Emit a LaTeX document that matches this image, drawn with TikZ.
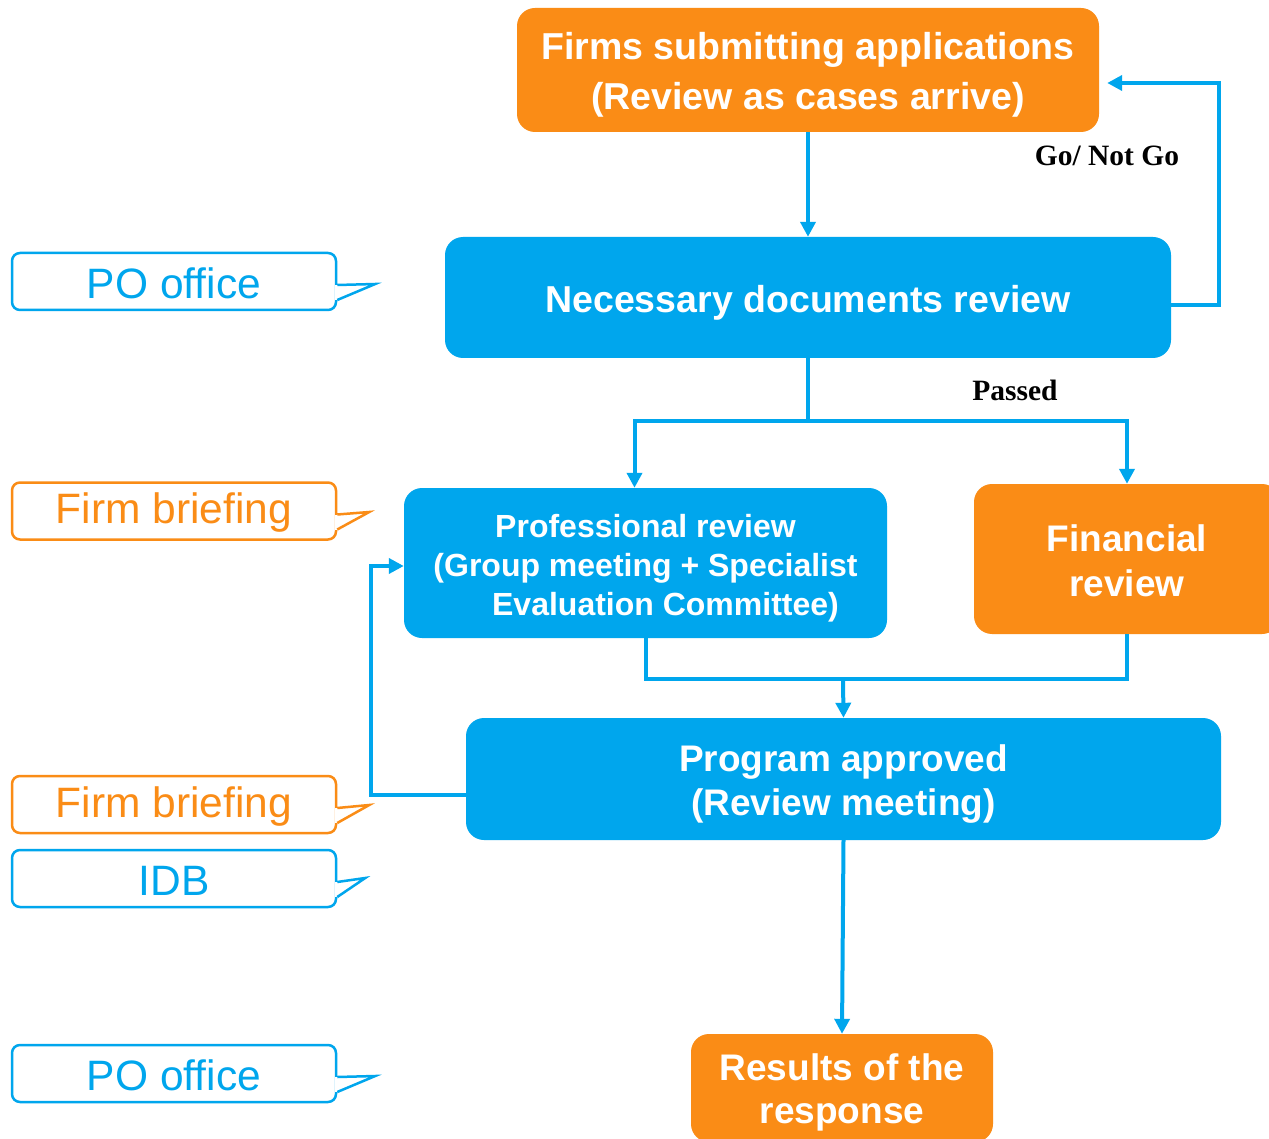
\documentclass[tikz,border=0pt]{standalone}
\usepackage{fontspec}
\setmainfont{Liberation Sans}
\newfontfamily\labelfont{Liberation Serif}
\usetikzlibrary{arrows.meta,calc}
\definecolor{flowblue}{RGB}{0,166,237}
\definecolor{floworange}{RGB}{250,140,22}
\begin{document}
\begin{tikzpicture}[x=1pt,y=-1pt,
  box/.style={rounded corners=18pt, fill=#1, draw=none, inner sep=0pt},
  boxtext/.style={text=white, align=center, inner sep=0pt,
    font=\bfseries\fontsize{37.5}{50}\selectfont},
  callout/.style={draw=#1, line width=2.5pt, rounded corners=8pt,
    minimum width=324pt, minimum height=57pt, inner sep=0pt},
  callouttext/.style={text=#1, inner sep=0pt, font=\fontsize{42.5}{46}\selectfont},
  link/.style={draw=flowblue, line width=4pt},
  arrowlink/.style={link, -{Triangle[length=15pt,width=15pt]}},
  steplabel/.style={font=\labelfont\bfseries\fontsize{29.5}{31}\selectfont, text=black}
]
\clip (0,0) rectangle (1269,1139);
\fill[white] (0,0) rectangle (1269,1139);

% process boxes
\node[box=floworange, minimum width=582pt, minimum height=124pt] (firms) at (808,70) {};
\node[box=flowblue, minimum width=726pt, minimum height=121pt] (docs) at (808,297.5) {};
\node[box=flowblue, minimum width=483pt, minimum height=150pt] (prof) at (645.5,563) {};
\node[box=floworange, minimum width=306pt, minimum height=150pt] (fin) at (1127,559) {};
\node[box=flowblue, minimum width=755pt, minimum height=122pt] (prog) at (843.5,779) {};
\node[box=floworange, minimum width=302pt, minimum height=108pt] (res) at (842,1088) {};

% box captions
\node[boxtext] (firms-t) at ($(firms.center)+(0,5)$)
  {Firms submitting applications\\(Review as cases arrive)};
\node[boxtext] (docs-t) at ($(docs.center)+(0,5.5)$) {Necessary documents review};
\node[boxtext, font=\bfseries\fontsize{32}{39}\selectfont] (prof-t) at ($(prof.center)+(0,5)$)
  {Professional review\\(Group meeting + Specialist\\\hspace*{40pt}Evaluation Committee)};
\node[boxtext, font=\bfseries\fontsize{37}{45}\selectfont] (fin-t) at ($(fin.center)+(0,1.5)$)
  {Financial\\review};
\node[boxtext, font=\bfseries\fontsize{37}{44}\selectfont] (prog-t) at ($(prog.center)+(0,5)$)
  {Program approved\\(Review meeting)};
\node[boxtext, font=\bfseries\fontsize{37}{43}\selectfont] (res-t) at ($(res.center)+(0,4)$)
  {Results of the\\response};

% side callouts with their pointers
\node[callout=flowblue] (po1) at (174,281.5) {};
\node[callout=floworange] (fb1) at (174,511) {};
\node[callout=floworange] (fb2) at (174,804.5) {};
\node[callout=flowblue] (idb) at (174,878.5) {};
\node[callout=flowblue] (po2) at (174,1073.5) {};

\foreach \c/\col/\tx/\ty in {po1/flowblue/38/2.5, fb1/floworange/32/1, fb2/floworange/32/0.5, idb/flowblue/28/-0.5, po2/flowblue/38/2.5}{
  \fill[white] ($(\c.east)+(-2,3.5)$) rectangle ($(\c.east)+(2,18.5)$);
  \draw[\col, line width=2.5pt, line join=miter]
    ($(\c.east)+(0,3.5)$) -- ($(\c.east)+(\tx,\ty)$) -- ($(\c.east)+(0,18.5)$);
}

\node[callouttext=flowblue] (po1-t) at ($(po1.center)+(0,2)$) {PO office};
\node[callouttext=floworange] (fb1-t) at ($(fb1.center)+(0,2)$) {Firm briefing};
\node[callouttext=floworange] (fb2-t) at ($(fb2.center)+(0,2)$) {Firm briefing};
\node[callouttext=flowblue] (idb-t) at ($(idb.center)+(0,2)$) {IDB};
\node[callouttext=flowblue] (po2-t) at ($(po2.center)+(0,2)$) {PO office};

% connectors
\draw[arrowlink] (firms.south) -- (docs.north);
\draw[arrowlink, shorten >=8pt] ($(docs.east)+(0,7.5)$) -- ++(48,0) |- ($(firms.east)+(0,13)$);
\coordinate (split) at (808,421);
\draw[link] (docs.south) -- (split);
\draw[arrowlink] (split) -| ($(prof.north)+(-11,0)$);
\draw[arrowlink] (split) -| (fin.north);
\coordinate (merge) at (843,679);
\draw[link] (prof.south) |- (merge);
\draw[link] (fin.south) |- (merge);
\draw[arrowlink] (merge) -- (prog.north);
\draw[arrowlink] ($(prog.west)+(0,16)$) -- ++(-95,0) |- ($(prof.west)+(0,3)$);
\draw[arrowlink] (prog.south) -- (res.north);

% connector labels
\node[steplabel] (gonogo) at (1107,156) {Go/ Not Go};
\node[steplabel] (passed) at (1015,390) {Passed};
\end{tikzpicture}
\end{document}
